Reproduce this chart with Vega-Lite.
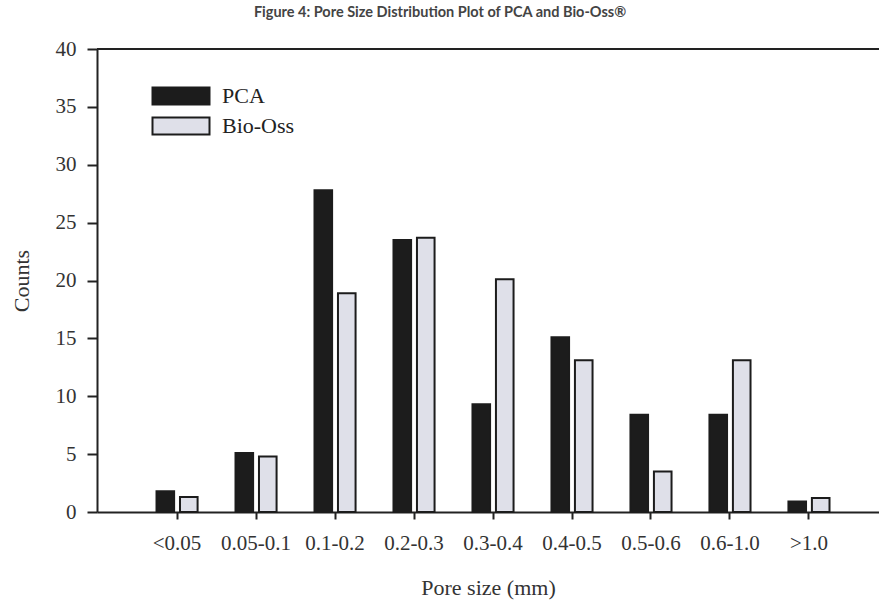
{
  "$schema": "https://vega.github.io/schema/vega-lite/v6.json",
  "width": 782,
  "height": 463,
  "autosize": {"type": "none"},
  "padding": {"left": 97, "top": 49, "right": 0, "bottom": 93},
  "background": "white",
  "title": {
    "text": "Figure 4: Pore Size Distribution Plot of PCA and Bio-Oss®",
    "font": "Lato",
    "fontSize": 14.5,
    "fontWeight": "bold",
    "color": "#444444",
    "anchor": "middle",
    "dx": -48,
    "offset": 18
  },
  "config": {
    "view": {"stroke": null},
    "axis": {
      "grid": false,
      "labelFont": "Liberation Serif",
      "titleFont": "Liberation Serif",
      "labelFontSize": 21,
      "titleFontSize": 22,
      "titleFontWeight": "normal",
      "labelColor": "#333333",
      "titleColor": "#333333",
      "domainColor": "#222222",
      "tickColor": "#222222",
      "domainWidth": 2,
      "tickWidth": 2
    }
  },
  "data": {
    "values": [
      {"size": "<0.05", "material": "PCA", "count": 1.8},
      {"size": "<0.05", "material": "Bio-Oss", "count": 1.3},
      {"size": "0.05-0.1", "material": "PCA", "count": 5.1},
      {"size": "0.05-0.1", "material": "Bio-Oss", "count": 4.8},
      {"size": "0.1-0.2", "material": "PCA", "count": 27.8},
      {"size": "0.1-0.2", "material": "Bio-Oss", "count": 18.9},
      {"size": "0.2-0.3", "material": "PCA", "count": 23.5},
      {"size": "0.2-0.3", "material": "Bio-Oss", "count": 23.7},
      {"size": "0.3-0.4", "material": "PCA", "count": 9.3},
      {"size": "0.3-0.4", "material": "Bio-Oss", "count": 20.1},
      {"size": "0.4-0.5", "material": "PCA", "count": 15.1},
      {"size": "0.4-0.5", "material": "Bio-Oss", "count": 13.1},
      {"size": "0.5-0.6", "material": "PCA", "count": 8.4},
      {"size": "0.5-0.6", "material": "Bio-Oss", "count": 3.5},
      {"size": "0.6-1.0", "material": "PCA", "count": 8.4},
      {"size": "0.6-1.0", "material": "Bio-Oss", "count": 13.1},
      {"size": ">1.0", "material": "PCA", "count": 0.9},
      {"size": ">1.0", "material": "Bio-Oss", "count": 1.2}
    ]
  },
  "layer": [
    {
      "mark": {"type": "bar", "strokeWidth": 2},
      "encoding": {
        "x": {
          "field": "size",
          "type": "nominal",
          "sort": null,
          "scale": {"paddingInner": 0.48, "paddingOuter": 0.69, "align": 0.546},
          "axis": {
            "title": "Pore size (mm)",
            "labelAngle": 0,
            "tickSize": 7,
            "labelPadding": 13,
            "titlePadding": 24
          }
        },
        "xOffset": {
          "field": "material",
          "type": "nominal",
          "sort": ["PCA", "Bio-Oss"],
          "scale": {"paddingInner": 0.25, "paddingOuter": 0}
        },
        "y": {
          "field": "count",
          "type": "quantitative",
          "scale": {"domain": [0, 40]},
          "axis": {
            "title": "Counts",
            "values": [0, 5, 10, 15, 20, 25, 30, 35, 40],
            "tickSize": 10,
            "labelPadding": 11,
            "titlePadding": 22
          }
        },
        "fill": {
          "field": "material",
          "type": "nominal",
          "sort": ["PCA", "Bio-Oss"],
          "scale": {"domain": ["PCA", "Bio-Oss"], "range": ["#1c1c1c", "#dfe0e9"]},
          "legend": {
            "title": null,
            "orient": "none",
            "legendX": 73,
            "legendY": 36,
            "symbolType": "M-3,-0.9L3,-0.9L3,0.9L-3,0.9Z",
            "symbolSize": 361,
            "symbolStrokeWidth": 2,
            "labelFont": "Liberation Serif",
            "labelFontSize": 22,
            "labelColor": "#222222",
            "labelOffset": 30,
            "rowPadding": 4
          }
        },
        "stroke": {
          "field": "material",
          "type": "nominal",
          "sort": ["PCA", "Bio-Oss"],
          "scale": {"domain": ["PCA", "Bio-Oss"], "range": ["#1c1c1c", "#1c1c1c"]},
          "legend": null
        }
      }
    },
    {
      "mark": {"type": "rule", "color": "#222222", "strokeWidth": 2},
      "encoding": {"y": {"datum": 40}}
    }
  ]
}
